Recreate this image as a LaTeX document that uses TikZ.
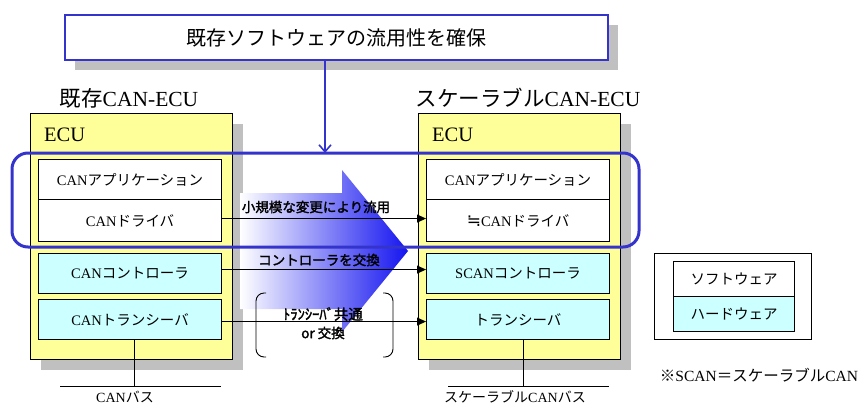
\documentclass[tikz,border=0pt]{standalone}
\usepackage{fontspec}
\setmainfont{Liberation Serif}
\newfontfamily\jp{Noto Sans CJK JP}
\newfontfamily\jpb{Noto Sans CJK JP}[FakeBold=2]
\newfontfamily\symf{DejaVu Sans}
\usetikzlibrary{arrows.meta,calc}
\definecolor{ecuyellow}{HTML}{FFFF99}
\definecolor{hwcyan}{HTML}{CCFFFF}
\definecolor{shadowgray}{HTML}{C0C0C0}
\definecolor{frameblue}{HTML}{3434CC}
\definecolor{arrowblue}{HTML}{1414F0}
\begin{document}
\begin{tikzpicture}[x=1pt,y=-1pt,
  ecubox/.style={fill=ecuyellow, draw=black, line width=0.9pt, anchor=north west, minimum width=202pt, minimum height=246pt, inner sep=0pt},
  layer/.style={draw=black, line width=1.1pt, anchor=north west, minimum width=183pt, inner sep=0pt, font=\fontsize{14.5}{17}\selectfont},
  swbox/.style={layer, fill=white},
  hwbox/.style={layer, fill=hwcyan},
  legbox/.style={draw=black, line width=1.1pt, anchor=north west, minimum width=121pt, minimum height=35pt, inner sep=0pt, font=\fontsize{14.5}{17}\selectfont\jp},
  conn/.style={draw=black, line width=0.9pt, -{Triangle[length=9pt,width=8pt]}},
  boldlabel/.style={font=\fontsize{13.5}{15}\selectfont\jpb, inner sep=0pt},
  header/.style={font=\fontsize{21.5}{24}\selectfont, inner sep=0pt},
  plain/.style={font=\fontsize{14}{16}\selectfont, inner sep=0pt},
  bracket/.style={draw=black, line width=0.9pt, rounded corners=8pt}
]
\useasboundingbox (0,0) rectangle (864,405);

% ---- ECU shadows and frames ----
\fill[shadowgray] (41,124) rectangle (243,370);
\fill[shadowgray] (429,124) rectangle (631,370);
\node[ecubox] (ecuL) at (30,113) {};
\node[ecubox] (ecuR) at (418,113) {};
\node[font=\fontsize{20.5}{22}\selectfont, anchor=west, inner sep=0pt] (ecuLt) at (44,135) {ECU};
\node[font=\fontsize{20.5}{22}\selectfont, anchor=west, inner sep=0pt] (ecuRt) at (432,135) {ECU};

% ---- left layers ----
\node[swbox, minimum height=40pt] (appL) at (38,159) {CAN{\jp アプリケーション}};
\node[swbox, minimum height=42pt] (drvL) at (38,199) {CAN{\jp ドライバ}};
\node[hwbox, minimum height=40pt] (ctlL) at (38,253) {CAN{\jp コントローラ}};
\node[hwbox, minimum height=40pt] (trxL) at (38,299) {CAN{\jp トランシーバ}};

% ---- right layers ----
\node[swbox, minimum height=40pt] (appR) at (426,159) {CAN{\jp アプリケーション}};
\node[swbox, minimum height=42pt] (drvR) at (426,199) {{\symf\fontsize{17}{17}\selectfont ≒}CAN{\jp ドライバ}};
\node[hwbox, minimum height=40pt] (ctlR) at (426,253) {SCAN{\jp コントローラ}};
\node[hwbox, minimum height=40pt] (trxR) at (426,299) {{\jp トランシーバ}};

% ---- buses ----
\coordinate (busLa) at (60,386);
\coordinate (busLb) at (221,386);
\coordinate (busLc) at (134,386);
\coordinate (busRa) at (448,386);
\coordinate (busRb) at (609,386);
\coordinate (busRc) at (523,386);
\draw[line width=0.9pt] (busLc |- trxL.south) -- (busLc);
\draw[line width=0.9pt] (busLa) -- (busLb);
\draw[line width=0.9pt] (busRc |- trxR.south) -- (busRc);
\draw[line width=0.9pt] (busRa) -- (busRb);
\node[plain] (busLt) at (125,397) {CAN{\jp バス}};
\node[plain] (busRt) at (515,397) {{\jp スケーラブル}CAN{\jp バス}};

% ---- big gradient arrow ----
\shade[left color=white, right color=arrowblue]
  (240,193) -- (342,193) -- (342,170) -- (408,251) -- (342,332) -- (342,309) -- (240,309) -- cycle;

% ---- connectors ----
\draw[conn] ([yshift=2pt]drvL.east) -- ([yshift=2pt]drvR.west);
\draw[conn] ([yshift=4pt]ctlL.east) -- ([yshift=4pt]ctlR.west);
\draw[conn] ([yshift=-2pt]trxL.east) -- ([yshift=-2pt]trxR.west);
\node[boldlabel] (lbl1) at (316,207) {小規模な変更により流用};
\node[boldlabel] (lbl2) at (319,260) {コントローラを交換};
\node[boldlabel, font=\fontsize{14.5}{16}\selectfont\jpb] (lbl3) at (323,314) {ﾄﾗﾝｼｰﾊﾞ共通};
\node[boldlabel] (lbl4) at (323,333) {or 交換};
\draw[bracket] (266,293) -- (256,293) -- (256,357) -- (266,357);
\draw[bracket] (383,293) -- (393,293) -- (393,357) -- (383,357);

% ---- reuse frame ----
\draw[frameblue, line width=3pt, rounded corners=16pt] (12,153) rectangle (639,247);

% ---- top box ----
\fill[shadowgray] (75,25) rectangle (618,70);
\node[draw=frameblue, fill=white, line width=2pt, anchor=north west, minimum width=543pt, minimum height=45pt, inner sep=0pt, font=\fontsize{20}{24}\selectfont\jp] (top) at (64,14) {既存ソフトウェアの流用性を確保};
\coordinate (vtip) at (325,153);
\draw[frameblue, line width=1.6pt, -{Straight Barb[length=7pt,width=12pt]}] (vtip |- top.south) -- (vtip);

% ---- headers ----
\node[header] (hdrL) at (129,98) {{\jp 既存}CAN-ECU};
\node[header] (hdrR) at (528,98) {{\jp スケーラブル}CAN-ECU};

% ---- legend ----
\node[draw=black, line width=0.9pt, fill=white, anchor=north west, minimum width=157pt, minimum height=86pt, inner sep=0pt] (leg) at (654,253) {};
\node[legbox, fill=white] (legsw) at (673,261) {ソフトウェア};
\node[legbox, fill=hwcyan] (leghw) at (673,296) {ハードウェア};
\node[font=\fontsize{15.5}{18}\selectfont, inner sep=0pt] (note) at (759,375) {{\jp ※}SCAN{\jp ＝スケーラブル}CAN};
\end{tikzpicture}
\end{document}
